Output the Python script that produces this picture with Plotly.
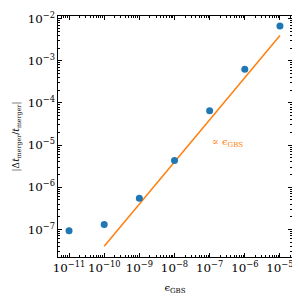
import plotly.graph_objects as go

eps = [1e-11, 1e-10, 1e-9, 1e-8, 1e-7, 1e-6, 1e-5]
err = [9.3e-8, 1.3e-7, 5.5e-7, 4.3e-6, 6.5e-5, 6.3e-4, 6.7e-3]
fit_x = [1e-10, 1e-5]
fit_y = [4e-8, 4e-3]

font = dict(family="DejaVu Serif", size=9.5, color="black")

fig = go.Figure()
fig.add_trace(go.Scatter(x=fit_x, y=fit_y, mode="lines",
                         line=dict(color="#ff7f0e", width=1.5), showlegend=False))
fig.add_trace(go.Scatter(x=eps, y=err, mode="markers",
                         marker=dict(color="#1f77b4", size=7), showlegend=False))
fig.add_annotation(x=-6.48, y=-4.95, xref="x", yref="y", text="∝ ϵ<sub>GBS</sub>",
                   showarrow=False, font=dict(family="DejaVu Serif", size=10, color="#ff7f0e"))

axis_common = dict(type="log", showgrid=False, zeroline=False, showline=True,
                   linecolor="black", linewidth=1, mirror="allticks",
                   ticks="inside", ticklen=4, tickwidth=1, tickcolor="black",
                   dtick=1, exponentformat="power", tickfont=font, tickangle=0,
                   ticklabeloverflow="allow",
                   minor=dict(ticks="inside", ticklen=2, tickcolor="black", showgrid=False))

fig.update_xaxes(range=[-11.314, -4.657],
                 title=dict(text="ϵ<sub>GBS</sub>", font=dict(family="DejaVu Serif", size=10, color="black"), standoff=10),
                 **axis_common)
fig.update_yaxes(range=[-7.655, -1.937],
                 title=dict(text="|Δ<i>t</i><sub>merger</sub>/<i>t</i><sub>merger</sub>|",
                            font=dict(family="DejaVu Serif", size=9, color="black"), standoff=6),
                 **axis_common)

# the page body has an 8px margin, so the figure is sized/offset to compensate
fig.update_layout(width=292, height=292, margin=dict(l=50, r=8, t=2, b=43),
                  paper_bgcolor="white", plot_bgcolor="white")
fig.write_html("out.html")
